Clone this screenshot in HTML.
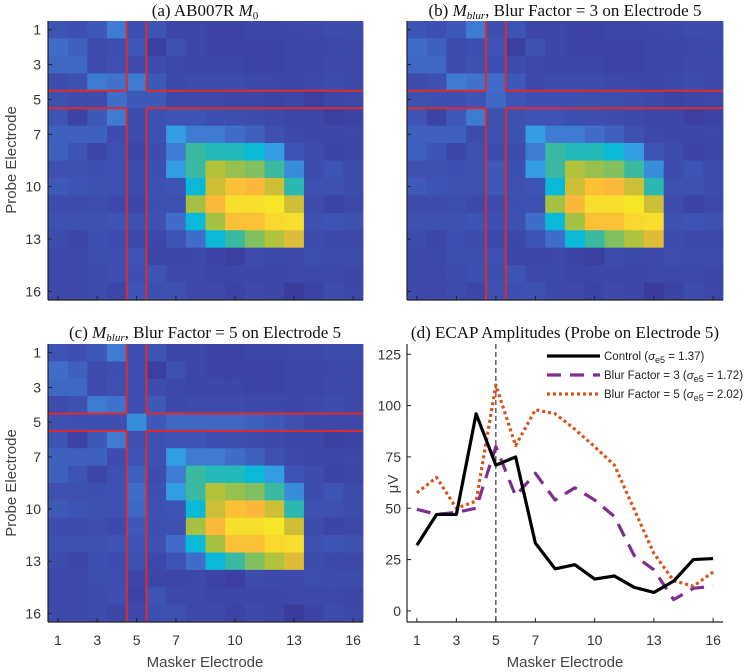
<!DOCTYPE html>
<html><head><meta charset="utf-8">
<style>
html,body{margin:0;padding:0;background:#fff;}
svg{display:block;}
.tick{font-family:"Liberation Sans",sans-serif;font-size:14px;fill:#333;}
.ttl{font-family:"Liberation Serif",serif;font-size:17px;fill:#111;}
.lab{font-family:"Liberation Sans",sans-serif;font-size:15px;fill:#444;}
.leg{font-family:"Liberation Sans",sans-serif;font-size:11.5px;fill:#222;}
</style></head>
<body>
<svg id="fig" width="750" height="672" viewBox="0 0 750 672" xmlns="http://www.w3.org/2000/svg">
<text class="ttl" x="205" y="16" text-anchor="middle">(a) AB007R <tspan font-style="italic">M</tspan><tspan font-size="11" dy="3">0</tspan></text>
<text class="ttl" x="565" y="16" text-anchor="middle">(b) <tspan font-style="italic">M</tspan><tspan font-size="11" dy="3" font-style="italic">blur</tspan><tspan dy="-3">, Blur Factor = 3 on Electrode 5</tspan></text>
<text class="ttl" x="205" y="338" text-anchor="middle">(c) <tspan font-style="italic">M</tspan><tspan font-size="11" dy="3" font-style="italic">blur</tspan><tspan dy="-3">, Blur Factor = 5 on Electrode 5</tspan></text>
<text class="ttl" x="565" y="338" text-anchor="middle">(d) ECAP Amplitudes (Probe on Electrode 5)</text>
<text class="lab" transform="translate(16,160) rotate(-90)" text-anchor="middle">Probe Electrode</text>
<text class="lab" transform="translate(16,483) rotate(-90)" text-anchor="middle">Probe Electrode</text>
<text class="lab" x="205" y="667" text-anchor="middle">Masker Electrode</text>
<text class="lab" x="565" y="667" text-anchor="middle">Masker Electrode</text>
<text class="lab" transform="translate(398,484) rotate(-90)" text-anchor="middle">μV</text>
</svg>
<script>
// heatmap base matrix (rows = probe 1..16, cols = masker 1..16)
const matA = [
[.20,.17,.22,.35,.17,.20,.12,.12,.10,.10,.12,.12,.13,.14,.15,.15],
[.30,.25,.15,.17,.22,.08,.18,.12,.10,.10,.10,.10,.12,.12,.13,.14],
[.28,.28,.15,.18,.15,.15,.13,.12,.12,.12,.10,.10,.12,.12,.14,.14],
[.15,.18,.35,.32,.35,.22,.14,.15,.15,.15,.14,.13,.12,.14,.15,.14],
[.18,.15,.15,.30,.22,.22,.13,.13,.13,.12,.12,.10,.12,.08,.12,.13],
[.20,.10,.22,.35,.15,.18,.20,.20,.17,.16,.15,.14,.12,.12,.08,.10],
[.25,.25,.25,.15,.15,.18,.45,.35,.35,.30,.25,.18,.14,.12,.12,.13],
[.25,.20,.12,.18,.12,.15,.35,.65,.60,.60,.55,.45,.20,.15,.10,.12],
[.18,.18,.17,.18,.15,.17,.45,.65,.82,.78,.75,.65,.40,.15,.20,.15],
[.22,.20,.18,.18,.15,.18,.20,.55,.85,.92,.90,.85,.62,.18,.18,.15],
[.15,.15,.16,.14,.12,.17,.18,.80,.90,.98,.98,1.0,.85,.15,.10,.14],
[.18,.18,.18,.20,.18,.18,.30,.55,.80,.92,.92,.97,.98,.18,.20,.18],
[.15,.12,.17,.15,.14,.13,.20,.30,.55,.65,.75,.82,.87,.15,.14,.13],
[.14,.14,.16,.16,.20,.12,.12,.13,.10,.08,.15,.14,.14,.16,.15,.15],
[.13,.13,.15,.17,.17,.20,.14,.14,.12,.12,.12,.12,.13,.13,.14,.12],
[.14,.13,.15,.12,.20,.17,.18,.14,.14,.10,.14,.12,.07,.10,.15,.13]];
// overrides for blurred electrode 5 (row 5 and column 5)
const row5B = [.18,.17,.17,.20,.28,.20,.17,.17,.17,.16,.16,.15,.14,.10,.12,.13];
const col5B = [.17,.20,.17,.30,.28,.18,.18,.15,.22,.22,.15,.17,.14,.18,.16,.18];
const row5C = [.18,.17,.17,.17,.40,.22,.28,.28,.27,.27,.25,.22,.18,.14,.13,.13];
const col5C = [.17,.17,.17,.17,.40,.18,.20,.25,.30,.28,.22,.20,.18,.12,.10,.14];
const tickIdx = [1,3,5,7,10,13,16];
// line chart data
const electrodes = [1,2,3,4,5,6,7,8,9,10,11,12,13,14,15,16];
const control = [32,47,47,96,71,75,33,20.5,22.5,15.5,17,11.5,9,14.5,25,25.5];
const blur3 = [49.5,47,48,50,80,56,67,54,60,54,46,27,20,5.5,11,12];
const blur5 = [57.5,65,50,53.5,110,80.5,98,96,88.5,80,71,49.5,28,14.7,12,19];
const yTicks = [0,25,50,75,100,125];
const legendLabels = ["Control (","Blur Factor = 3 (","Blur Factor = 5 ("];
const legendSig = ["1.37","1.72","2.02"];

const NS="http://www.w3.org/2000/svg";
const svg=document.getElementById('fig');
function mk(t,a,p){const e=document.createElementNS(NS,t);for(const k in a)e.setAttribute(k,a[k]);(p||svg).appendChild(e);return e;}
const cmap=[[0,[53,42,135]],[.1,[60,68,165]],[.2,[62,84,180]],[.32,[64,114,205]],[.45,[50,158,225]],[.55,[10,184,216]],[.65,[59,184,160]],[.75,[128,192,96]],[.83,[185,194,52]],[.9,[252,184,58]],[1,[246,230,40]]];
function col(v){v=Math.max(0,Math.min(1,v));for(let i=1;i<cmap.length;i++){if(v<=cmap[i][0]){const a=cmap[i-1],b=cmap[i];const t=(v-a[0])/(b[0]-a[0]);const c=a[1].map((x,j)=>Math.round(x+(b[1][j]-x)*t));return `rgb(${c})`;}}return 'rgb(246,230,40)';}

function heat(L,T,W,H,variant,name,showX,showY){
  const g=mk('g',{});
  
  
  const cw=W/16, ch=H/16;
  const bx=k=>L+k*cw, by=k=>T+k*ch; // boundary after k cells
  for(let r=0;r<16;r++)for(let c=0;c<16;c++){
    let v=matA[r][c];
    if(variant==='b'){if(r===4)v=row5B[c];if(c===4)v=col5B[r];}
    if(variant==='c'){if(r===4)v=row5C[c];if(c===4)v=col5C[r];}
    const rc=mk('rect',{x:bx(c),y:by(r),width:cw+0.4,height:ch+0.4,fill:col(v)},g);
    
    
  }
  const red='#e02a2a';
  const a=bx(4),b=bx(5),ya=by(4),yb=by(5);
  [[L,ya,a,ya],[b,ya,L+W,ya],[L,yb,a,yb],[b,yb,L+W,yb],[a,T,a,ya],[b,T,b,ya],[a,yb,a,T+H],[b,yb,b,T+H]].forEach(s=>{
    const ln=mk('line',{x1:s[0],y1:s[1],x2:s[2],y2:s[3],stroke:red,'stroke-width':2},g);
    
    
  });
  mk('line',{x1:L,y1:T,x2:L,y2:T+H,stroke:'#222','stroke-width':1.2},g);
  mk('line',{x1:L,y1:T+H,x2:L+W,y2:T+H,stroke:'#222','stroke-width':1.2},g);
  tickIdx.forEach(t=>{
    const cy=T+(t-0.5)*ch, cx=L+(t-0.5)*cw;
    mk('line',{x1:L,y1:cy,x2:L+4,y2:cy,stroke:'#222'},g);
    mk('line',{x1:cx,y1:T+H,x2:cx,y2:T+H-4,stroke:'#222'},g);
    if(showY){const tx=mk('text',{x:L-7,y:cy+5,class:'tick','text-anchor':'end'},g);tx.textContent=t;
      }
    if(showX){const tx=mk('text',{x:cx,y:T+H+23,class:'tick','text-anchor':'middle'},g);tx.textContent=t;
      }
  });
}
heat(48,21,315,279,'a','heatmap-a',false,true);
heat(407,21,316,279,'b','heatmap-b',false,false);
heat(48,344,315,278,'c','heatmap-c',true,true);

// line chart
const L=407,T=344,W=316,H=278;
const xs=v=>L+(v-0.5)*W/16, ys=v=>T+H-(v+5.4)*H/135.4;
const gd=mk('g',{});


mk('line',{x1:L,y1:T,x2:L,y2:T+H,stroke:'#222','stroke-width':1.2},gd);
mk('line',{x1:L,y1:T+H,x2:L+W,y2:T+H,stroke:'#222','stroke-width':1.2},gd);
yTicks.forEach(t=>{mk('line',{x1:L,y1:ys(t),x2:L+4,y2:ys(t),stroke:'#222'},gd);
  const tx=mk('text',{x:L-6,y:ys(t)+5,class:'tick','text-anchor':'end'},gd);tx.textContent=t;
  });
tickIdx.forEach(t=>{mk('line',{x1:xs(t),y1:T+H,x2:xs(t),y2:T+H-4,stroke:'#222'},gd);
  const tx=mk('text',{x:xs(t),y:T+H+23,class:'tick','text-anchor':'middle'},gd);tx.textContent=t;
  });
const vl=mk('line',{x1:xs(5),y1:T,x2:xs(5),y2:T+H,stroke:'#111','stroke-width':1,'stroke-dasharray':'5,3'},gd);


const series=[[blur5,'#d95319','3,3','series-blur-5'],[blur3,'#7e2f8e','14,9','series-blur-3'],[control,'#000','none','series-control']];
series.forEach(s=>{
  const p=mk('polyline',{points:electrodes.map((e,i)=>xs(e)+','+ys(s[0][i])).join(' '),fill:'none',stroke:s[1],'stroke-width':3.2,'stroke-dasharray':s[2],'stroke-linejoin':'round'},gd);
  
  
});
const lst=[['#000','none'],['#7e2f8e','14,9'],['#d95319','3,3']];
legendLabels.forEach((lb,i)=>{
  const y=356+i*19;
  const g=mk('g',{},gd);
  
  
  mk('line',{x1:547,y1:y,x2:600,y2:y,stroke:lst[i][0],'stroke-width':3.2,'stroke-dasharray':lst[i][1]},g);
  const t=mk('text',{x:604,y:y+4,class:'leg'},g);
  t.innerHTML=lb+'<tspan font-style="italic">σ</tspan><tspan font-size="9" dy="3">e5</tspan><tspan dy="-3"> = '+legendSig[i]+')</tspan>';
});
</script>
</body></html>
